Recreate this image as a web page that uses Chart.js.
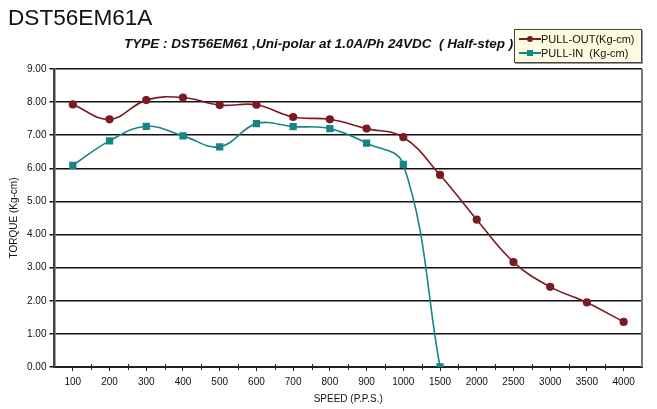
<!DOCTYPE html>
<html>
<head>
<meta charset="utf-8">
<script src="https://cdn.jsdelivr.net/npm/chart.js@4/dist/chart.umd.min.js"></script>
<style>
  body { margin: 0; background: #fff; font-family: "Liberation Sans", Arial, sans-serif; }
  #wrap { position: relative; width: 657px; height: 409px; }
  #title { position: absolute; left: 8px; top: 5px; font-size: 22.6px; color: #111; }
  #sub { position: absolute; left: 124px; top: 36px; font-size: 13.5px; font-weight: bold; font-style: italic; color: #111; }
  #legend { position: absolute; left: 514px; top: 29px; width: 126px; height: 32px; background: #fdfbe0;
    border: 1px solid #444; box-shadow: 1px 1px 0 #999; font-size: 11px; color: #111; }
  .row { position: absolute; left: 4px; height: 14px; line-height: 14px; }
  .sw { display: inline-block; position: relative; width: 22px; height: 14px; vertical-align: top; }
  .sw i { position: absolute; left: 0; top: 6px; width: 22px; height: 2px; }
  .sw b { position: absolute; left: 8px; top: 4px; width: 6px; height: 6px; }
  #chart { position: absolute; left: 0; top: 0; }
</style>
</head>
<body>
<div id="wrap">
  <canvas id="chart" width="657" height="409"></canvas>
  <div id="title">DST56EM61A</div>
  <div id="sub">TYPE : DST56EM61 ,Uni-polar at 1.0A/Ph 24VDC&nbsp; ( Half-step )</div>
  <div id="legend">
    <div class="row" style="top:2px"><span class="sw"><i style="background:#7b1a22"></i><b style="background:#7b1a22;border-radius:50%"></b></span>PULL-OUT(Kg-cm)</div>
    <div class="row" style="top:16px"><span class="sw"><i style="background:#178585"></i><b style="background:#178585"></b></span>PULL-IN&nbsp; (Kg-cm)</div>
  </div>
</div>
<script>
// speed categories (P.P.S.)
const speeds = ['100', '200', '300', '400', '500', '600', '700', '800', '900', '1000', '1500', '2000', '2500', '3000', '3500', '4000'];
const pullOut = [7.93, 7.48, 8.06, 8.14, 7.91, 7.92, 7.55, 7.48, 7.20, 6.94, 5.80, 4.45, 3.17, 2.42, 1.95, 1.36];
const pullIn = [6.09, 6.83, 7.27, 6.98, 6.65, 7.35, 7.26, 7.20, 6.76, 6.12, 0.00];
const yTicks = [0, 1, 2, 3, 4, 5, 6, 7, 8, 9];

const red = '#7b1a22';
const teal = '#178585';

// extra ticks between categories + right frame line
const frame = {
  id: 'frame',
  afterDraw(chart) {
    const ctx = chart.ctx, a = chart.chartArea, x = chart.scales.x;
    ctx.save();
    ctx.strokeStyle = '#222';
    ctx.lineWidth = 1;
    for (let i = 0; i < speeds.length - 1; i++) {
      const m = (x.getPixelForValue(i) + x.getPixelForValue(i + 1)) / 2;
      ctx.beginPath();
      ctx.moveTo(Math.round(m) + 0.5, a.bottom - 3);
      ctx.lineTo(Math.round(m) + 0.5, a.bottom + 3);
      ctx.stroke();
    }
    ctx.strokeStyle = '#777';
    ctx.lineWidth = 2;
    ctx.beginPath();
    ctx.moveTo(a.right, a.top);
    ctx.lineTo(a.right, a.bottom);
    ctx.stroke();
    ctx.restore();
  }
};

new Chart(document.getElementById('chart'), {
  type: 'line',
  data: {
    labels: speeds,
    datasets: [{
      label: 'PULL-OUT(Kg-cm)',
      data: pullOut,
      borderColor: red,
      backgroundColor: red,
      borderWidth: 1.6,
      pointStyle: 'circle',
      pointRadius: 3.3,
      tension: 0.4
    }, {
      label: 'PULL-IN  (Kg-cm)',
      data: pullIn,
      borderColor: teal,
      backgroundColor: teal,
      borderWidth: 1.6,
      pointStyle: 'rect',
      pointRadius: 4,
      tension: 0.4
    }]
  },
  options: {
    responsive: false,
    animation: false,
    layout: { padding: { top: 69, left: 4, right: 15, bottom: 4 } },
    plugins: { legend: { display: false }, tooltip: { enabled: false } },
    scales: {
      x: {
        offset: true,
        grid: { offset: false, drawOnChartArea: false, tickLength: 4, color: '#222' },
        border: { color: '#222', width: 2 },
        ticks: { color: '#111', font: { size: 10, family: 'Liberation Sans' }, maxRotation: 0, autoSkip: false, padding: 5 },
        title: { display: true, text: 'SPEED (P.P.S.)', color: '#111', font: { size: 10, family: 'Liberation Sans' }, padding: { top: 0, bottom: 0 } }
      },
      y: {
        min: 0, max: 9,
        afterBuildTicks: s => { s.ticks = yTicks.map(v => ({ value: v })); },
        grid: { color: '#111', lineWidth: 1.5, tickLength: 5 },
        border: { color: '#444', width: 2.5 },
        ticks: { color: '#111', font: { size: 10, family: 'Liberation Sans' }, padding: 3, callback: v => v.toFixed(2) },
        title: { display: true, text: 'TORQUE (Kg-cm)', color: '#111', font: { size: 10, family: 'Liberation Sans' }, padding: { top: 4, bottom: 4 } }
      }
    }
  },
  plugins: [frame]
});
</script>
</body>
</html>
